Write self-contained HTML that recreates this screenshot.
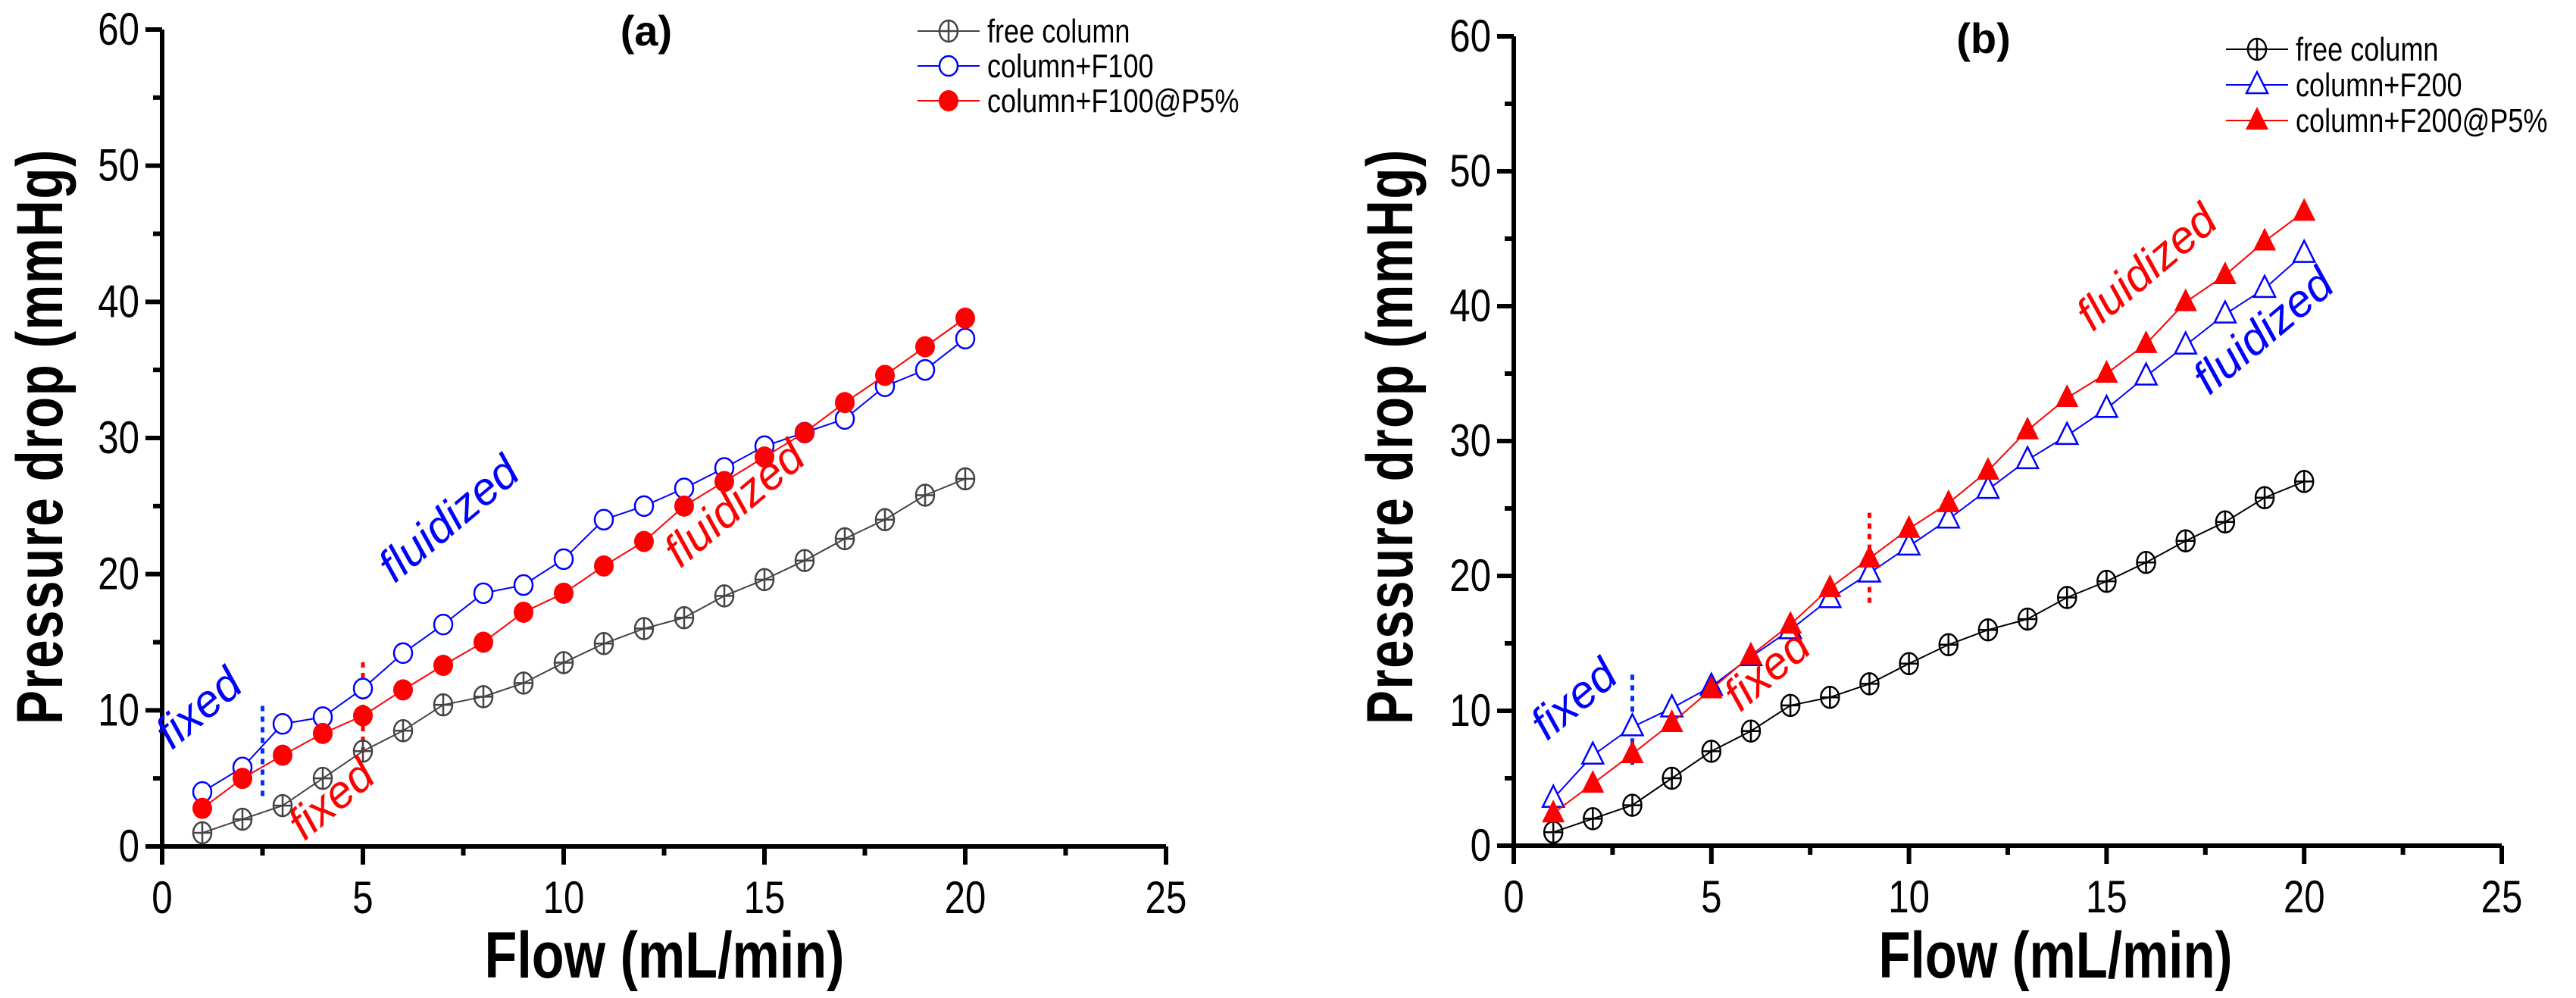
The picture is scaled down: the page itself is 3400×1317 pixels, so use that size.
<!DOCTYPE html>
<html><head><meta charset="utf-8"><style>
html,body{margin:0;padding:0;background:#fff}
svg{display:block}
text{font-family:"Liberation Sans Narrow","Liberation Sans",sans-serif}
</style></head><body>
<svg id="chart" width="3400" height="1317" viewBox="0 0 3400 1317" xmlns="http://www.w3.org/2000/svg"></svg>
<script>
const flow = [1,2,3,4,5,6,7,8,9,10,11,12,13,14,15,16,17,18,19,20];
const freeColumn = [1,2,3,5,7,8.5,10.4,11,12,13.5,14.9,16,16.8,18.4,19.6,21,22.6,24,25.8,27];
const colF100 = [4,5.8,9,9.5,11.6,14.2,16.3,18.6,19.2,21.1,24,25,26.3,27.8,29.4,30.4,31.4,33.8,35,37.3];
const colF100P5 = [2.8,5,6.7,8.3,9.6,11.5,13.3,15,17.2,18.6,20.6,22.4,25,26.8,28.6,30.4,32.6,34.6,36.7,38.8];
const colF200 = [3.5,6.7,8.8,10.2,11.8,14,16,18.3,20.2,22.2,24.2,26.4,28.6,30.4,32.4,34.8,37.1,39.4,41.3,43.9];
const colF200P5 = [2.4,4.6,6.8,9.1,11.6,14.1,16.4,19.1,21.3,23.5,25.4,27.8,30.8,33.2,35,37.2,40.3,42.3,44.8,47];
const xTicks = [0,5,10,15,20,25];
const yTicks = [0,10,20,30,40,50,60];

const NS="http://www.w3.org/2000/svg";
const svg=document.getElementById('chart');
function mk(tag,attrs,parent){const e=document.createElementNS(NS,tag);for(const k in attrs)e.setAttribute(k,attrs[k]);(parent||svg).appendChild(e);return e;}
function narrow(t){const w=t.getComputedTextLength();if(w>0){t.setAttribute('textLength',(w*0.82).toFixed(1));t.setAttribute('lengthAdjust','spacingAndGlyphs');}}

function panel(P){
  const g=mk('g',{});
  
  
  const sx=v=>P.x0+(v-0)*(P.x1-P.x0)/25;
  const sy=v=>P.y0-(v)*(P.y0-P.y1)/60;
  const ax=mk('path',{d:`M${P.x0} ${sy(60)} V${P.y0} H${P.x1}`,stroke:'#000','stroke-width':6,fill:'none'},g);
  
  
  yTicks.forEach(t=>{
    mk('line',{x1:P.x0-22,x2:P.x0,y1:sy(t),y2:sy(t),stroke:'#000','stroke-width':6},g);
    const tl=mk('text',{x:P.x0-30,y:sy(t)+20,'text-anchor':'end','font-size':60},g);
    tl.textContent=t;
    
    
    narrow(tl);
  });
  for(let t=5;t<60;t+=10){mk('line',{x1:P.x0-12,x2:P.x0,y1:sy(t),y2:sy(t),stroke:'#000','stroke-width':6},g);}
  xTicks.forEach(t=>{
    mk('line',{x1:sx(t),x2:sx(t),y1:P.y0,y2:P.y0+24,stroke:'#000','stroke-width':6},g);
    const tl=mk('text',{x:sx(t),y:P.y0+88,'text-anchor':'middle','font-size':60},g);
    tl.textContent=t;
    
    
    narrow(tl);
  });
  for(let t=2.5;t<25;t+=5){mk('line',{x1:sx(t),x2:sx(t),y1:P.y0,y2:P.y0+12,stroke:'#000','stroke-width':6},g);}
  const xt=mk('text',{x:P.xtX,y:1290,'text-anchor':'middle','font-size':86,'font-weight':'bold',textLength:P.xtW,lengthAdjust:'spacingAndGlyphs',style:'font-family:"Liberation Sans",sans-serif'},g);
  xt.textContent='Flow (mL/min)';
  
  
  const yt=mk('text',{x:0,y:0,'text-anchor':'middle','font-size':86,'font-weight':'bold',textLength:760,lengthAdjust:'spacingAndGlyphs',transform:`translate(${P.ytX},576) rotate(-90)`,style:'font-family:"Liberation Sans",sans-serif;letter-spacing:2px'},g);
  yt.textContent='Pressure drop (mmHg)';
  
  
  const pt=mk('text',{x:P.ptX,y:P.ptY,'text-anchor':'middle','font-size':56,'font-weight':'bold'},g);
  pt.textContent=P.label;
  
  
  P.dots.forEach(d=>{
    const l=mk('line',{x1:sx(d.x),x2:sx(d.x),y1:sy(d.a),y2:sy(d.b),stroke:d.c,'stroke-width':5,'stroke-dasharray':'7 7'},g);
    
    
  });
  P.series.forEach(s=>{
    const sg=mk('g',{},g);
    
    
    mk('polyline',{points:flow.map((f,i)=>sx(f)+','+sy(s.data[i])).join(' '),fill:'none',stroke:s.color,'stroke-width':2},sg);
    flow.forEach((f,i)=>{marker(sg,s,sx(f),sy(s.data[i]));});
  });
  P.ann.forEach(a=>{
    const t=mk('text',{x:0,y:0,'text-anchor':'middle','font-size':60,fill:a.c,transform:`translate(${a.x},${a.y}) rotate(-40)`,style:'font-family:"Liberation Sans",sans-serif;font-style:italic'},g);
    t.textContent=a.t;
    
    
  });
  P.series.forEach((s,i)=>{
    const ly=P.legY+i*P.legDy;
    const lg=mk('g',{},g);
    
    
    mk('line',{x1:P.legX,x2:P.legX+82,y1:ly,y2:ly,stroke:s.color,'stroke-width':2},lg);
    marker(lg,s,P.legX+41,ly);
    const t=mk('text',{x:P.legX+92,y:ly+15,'font-size':44},lg);
    t.textContent=s.label;
    narrow(t);
  });
}
function marker(g,s,x,y){
  let m;
  if(s.m==='cross'){
    m=mk('g',{},g);
    mk('ellipse',{cx:x,cy:y,rx:12,ry:14,fill:'none',stroke:s.color,'stroke-width':2.5},m);
    mk('path',{d:`M${x-12} ${y}H${x+12}M${x} ${y-14}V${y+14}`,stroke:s.color,'stroke-width':2.5},m);
  }else if(s.m==='open'){
    m=mk('ellipse',{cx:x,cy:y,rx:12,ry:13,fill:'#fff',stroke:s.color,'stroke-width':2.5},g);
  }else if(s.m==='fill'){
    m=mk('ellipse',{cx:x,cy:y,rx:13,ry:14,fill:s.color},g);
  }else if(s.m==='tri'){
    m=mk('polygon',{points:`${x},${y-17} ${x-14},${y+11} ${x+14},${y+11}`,fill:'#fff',stroke:s.color,'stroke-width':2.5},g);
  }else{
    m=mk('polygon',{points:`${x},${y-18} ${x-15},${y+12} ${x+15},${y+12}`,fill:s.color},g);
  }
  
  
}
panel({id:'a',label:'(a)',x0:214,x1:1539,y0:1117,y1:39,xtX:877,xtW:475,ytX:82,ptX:853,ptY:60,legX:1211,legY:41,legDy:46,
  dots:[{x:2.5,a:3.7,b:10.5,c:'#0030ff'},{x:5,a:6.9,b:13.6,c:'#ff0000'}],
  series:[{name:'free-column',label:'free column',data:freeColumn,color:'#444',m:'cross'},
          {name:'column-f100',label:'column+F100',data:colF100,color:'#0000ff',m:'open'},
          {name:'column-f100-p5',label:'column+F100@P5%',data:colF100P5,color:'#ff0000',m:'fill'}],
  ann:[{t:'fixed',x:275,y:950,c:'#0000ff'},{t:'fluidized',x:605,y:700,c:'#0000ff'},{t:'fixed',x:450,y:1070,c:'#ff0000'},{t:'fluidized',x:982,y:680,c:'#ff0000'}]});
panel({id:'b',label:'(b)',x0:1998,x1:3302,y0:1116,y1:48,xtX:2713,xtW:467,ytX:1864,ptX:2618,ptY:70,legX:2938,legY:65,legDy:47,
  dots:[{x:3,a:6,b:12.8,c:'#0030ff'},{x:9,a:18,b:24.8,c:'#ff0000'}],
  series:[{name:'free-column',label:'free column',data:freeColumn,color:'#000',m:'cross'},
          {name:'column-f200',label:'column+F200',data:colF200,color:'#0000ff',m:'tri'},
          {name:'column-f200-p5',label:'column+F200@P5%',data:colF200P5,color:'#ff0000',m:'ftri'}],
  ann:[{t:'fixed',x:2090,y:938,c:'#0000ff'},{t:'fluidized',x:2846,y:368,c:'#ff0000'},{t:'fluidized',x:3000,y:452,c:'#0000ff'},{t:'fixed',x:2345,y:900,c:'#ff0000'}]});
</script>
</body></html>
